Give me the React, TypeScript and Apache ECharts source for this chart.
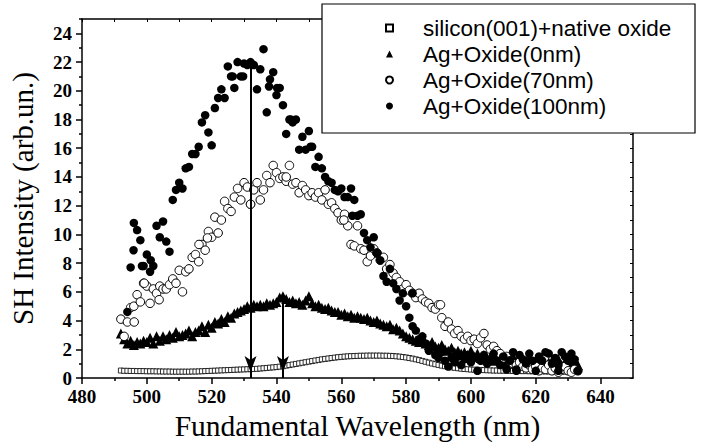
import React, { useEffect, useRef } from "react";
import * as echarts from "echarts";

const SERIF = "Liberation Serif";
const SANS = "Liberation Sans";

const xTitle = "Fundamental Wavelength (nm)";
const yTitle = "SH Intensity (arb.un.)";
const seriesNames = [
  "silicon(001)+native oxide",
  "Ag+Oxide(0nm)",
  "Ag+Oxide(70nm)",
  "Ag+Oxide(100nm)",
];

const xMajorTicks = [480, 500, 520, 540, 560, 580, 600, 620, 640];
const xMinorTicks = [490, 510, 530, 550, 570, 590, 610, 630];
const yMajorTicks = [0, 2, 4, 6, 8, 10, 12, 14, 16, 18, 20, 22, 24];
const yMinorTicks = [1, 3, 5, 7, 9, 11, 13, 15, 17, 19, 21, 23, 25];

const wavelengths = [
  492, 493, 494, 495, 496, 497, 498, 499, 500, 501,
  502, 503, 504, 505, 506, 507, 508, 509, 510, 511,
  512, 513, 514, 515, 516, 517, 518, 519, 520, 521,
  522, 523, 524, 525, 526, 527, 528, 529, 530, 531,
  532, 533, 534, 535, 536, 537, 538, 539, 540, 541,
  542, 543, 544, 545, 546, 547, 548, 549, 550, 551,
  552, 553, 554, 555, 556, 557, 558, 559, 560, 561,
  562, 563, 564, 565, 566, 567, 568, 569, 570, 571,
  572, 573, 574, 575, 576, 577, 578, 579, 580, 581,
  582, 583, 584, 585, 586, 587, 588, 589, 590, 591,
  592, 593, 594, 595, 596, 597, 598, 599, 600, 601,
  602, 603, 604, 605, 606, 607, 608, 609, 610, 611,
  612, 613, 614, 615, 616, 617, 618, 619, 620, 621,
  622, 623, 624, 625, 626, 627, 628, 629, 630, 631,
  632, 633,
];

const siliconValues = [
  0.52, 0.5, 0.5, 0.49, 0.49, 0.48, 0.48, 0.48, 0.47, 0.47,
  0.47, 0.46, 0.46, 0.45, 0.45, 0.45, 0.44, 0.44, 0.44, 0.44,
  0.44, 0.44, 0.45, 0.45, 0.46, 0.47, 0.48, 0.49, 0.5, 0.51,
  0.52, 0.53, 0.54, 0.55, 0.56, 0.57, 0.58, 0.59, 0.6, 0.61,
  0.62, 0.63, 0.64, 0.66, 0.68, 0.7, 0.72, 0.74, 0.76, 0.79,
  0.82, 0.86, 0.9, 0.94, 0.98, 1.02, 1.06, 1.1, 1.14, 1.18,
  1.22, 1.26, 1.3, 1.33, 1.36, 1.39, 1.42, 1.45, 1.47, 1.49,
  1.51, 1.52, 1.53, 1.54, 1.55, 1.55, 1.56, 1.56, 1.56, 1.56,
  1.56, 1.55, 1.55, 1.54, 1.53, 1.51, 1.49, 1.46, 1.43, 1.39,
  1.35, 1.3, 1.25, 1.19, 1.13, 1.07, 1.01, 0.96, 0.91, 0.86,
  0.82, 0.78, 0.74, 0.71, 0.68, 0.65, 0.63, 0.61, 0.59, 0.58,
  0.57, 0.56, 0.55, 0.54, 0.53, 0.52, 0.52, 0.51, 0.51, 0.5,
  0.5, 0.49, 0.49, 0.48, 0.48, 0.48, 0.47, 0.47, 0.47, 0.46,
  0.46, 0.46, 0.45, 0.45, 0.45, 0.44, 0.44, 0.44, 0.44, 0.43,
  0.43, 0.43,
];

const ag0Values = [
  3.1, 2.7, 2.4, 2.6, 2.3, 2.5, 2.4, 2.6, 2.5, 2.8,
  2.4, 2.9, 2.6, 2.9, 2.7, 3.0, 2.8, 3.2, 2.9, 3.0,
  3.1, 3.3, 2.9, 3.2, 3.3, 3.6, 3.2, 3.7, 3.5, 3.9,
  3.8, 4.1, 3.9, 4.3, 4.2, 4.5, 4.6, 4.7, 4.8, 5.0,
  4.9, 5.1, 5.0, 5.1, 5.0, 5.2, 5.1, 5.2, 5.3, 5.6,
  5.7, 5.5, 5.3, 5.4, 5.2, 5.3, 5.1, 5.4, 5.7, 5.2,
  5.0, 5.1, 4.9, 4.8, 4.9, 4.7, 4.6, 4.6, 4.4, 4.5,
  4.3, 4.4, 4.2, 4.3, 4.2, 4.1, 4.2, 4.0, 3.9, 4.0,
  3.8, 3.7, 3.6, 3.7, 3.4, 3.5, 3.3, 3.1, 2.9, 2.8,
  2.7, 2.6, 2.5, 2.6, 2.4, 2.3, 2.5, 2.2, 2.1, 2.3,
  2.0, 1.9, 2.1, 1.8, 1.9, 1.7, 1.8, 1.6, 1.9, 1.5,
  1.7, 1.4, 1.6, 1.3, 1.5, 1.2, 1.5, 1.3, 1.4, 1.1,
  1.3, 1.5, 1.1, 1.3, 1.0, 1.2, 1.4, 1.0, 1.2, 1.1,
  1.3, 0.9, 1.1, 1.2, 1.0, 1.3, 0.9, 1.1, 1.2, 1.0,
  1.1, 0.9,
];

const ag70Values = [
  4.1, 2.9, 3.9, 4.9, 5.0, 5.8, 5.3, 6.6, 6.4, 5.2,
  6.2, 5.9, 6.4, 6.2, 6.2, 6.5, 6.9, 6.6, 7.5, 6.0,
  7.4, 7.6, 8.4, 8.6, 8.1, 9.3, 8.9, 10.2, 9.8, 11.2,
  10.1, 11.0, 12.3, 11.8, 11.6, 12.6, 13.2, 12.4, 13.6, 13.3,
  12.1, 13.1, 13.6, 12.4, 13.1, 14.1, 13.6, 14.8, 14.3, 13.9,
  14.0, 13.7, 14.8, 13.5, 13.6, 12.9, 13.4, 13.1, 12.7, 12.9,
  12.6, 12.9, 12.4, 13.1, 12.1, 12.2, 11.8, 11.5, 11.0, 11.4,
  10.6, 9.3, 9.2, 10.6, 9.0, 8.9, 8.1, 8.5, 9.0, 8.7,
  8.2, 8.4, 7.6, 7.9, 7.3, 7.0, 6.7, 6.2, 6.5, 6.1,
  5.9, 5.6, 5.9, 5.5, 5.3, 5.2, 4.9, 4.8, 5.1, 4.2,
  3.6, 3.9, 3.4, 3.1, 3.3, 2.9, 2.7, 2.9, 2.6, 2.7,
  2.4, 2.8, 3.1, 2.3, 2.0, 2.2, 1.9, 1.7, 1.4, 1.5,
  1.2, 1.0, 0.9, 1.1, 0.8, 0.7, 0.9, 0.6, 0.8, 0.5,
  0.7, 0.6, 0.9, 0.5, 0.7, 0.4, 0.6, 0.8, 0.5, 0.4,
  0.6, 0.5,
];

const ag70ExtraX = [496.1, 499.2, 503.8, 516.1, 518.7, 532.0, 543.0, 560.8, 571.0, 590.6];
const ag70ExtraY = [3.9, 6.6, 5.45, 9.3, 9.75, 12.1, 14.0, 11.0, 8.7, 5.1];

const ag100Values = [
  null, null, 4.6, 7.7, 10.8, 10.3, 9.6, 7.8, 8.6, 7.4,
  7.8, 10.6, 9.8, 10.9, 9.5, 8.8, 12.4, 13.1, 13.6, 13.2,
  14.6, 14.7, 15.6, 15.6, 16.1, 17.8, 18.3, 17.1, 16.2, 18.8,
  19.5, 20.1, 19.5, 21.7, 21.0, 20.2, 22.0, 21.0, 21.9, 21.8,
  22.0, 21.8, 20.1, 21.5, 22.9, 18.5, 20.8, 21.3, 19.7, 20.2,
  19.0, 17.0, 18.0, 17.8, 18.0, 15.9, 16.8, 15.9, 17.2, 16.1,
  14.7, 15.4, 14.6, 14.0, 13.7, 13.6, 13.1, 13.0, 13.2, 12.6,
  12.6, 13.2, 12.4, 11.3, 11.4, 10.1, 9.6, 9.1, 9.8, 8.7,
  8.2, 7.1, 6.7, 7.6, 6.6, 6.2, 5.4, 5.9, 5.0, 4.2,
  3.6, 3.3, 2.7, 2.9, 2.4, 1.9, 2.2, 1.6, 1.4, 1.8,
  1.2, 0.8, 1.4, 1.1, 1.5, 0.9, 1.3, 1.6, 1.1, 1.4,
  0.5, 1.2, 1.6, 1.0, 1.3, 1.7, 1.2, 0.9, 1.5, 0.6,
  1.2, 1.8, 0.5, 1.6, 1.3, 1.0, 1.7, 1.2, 0.5, 1.5,
  1.2, 1.8, 1.7, 1.0, 1.4, 0.9, 1.8, 1.5, 1.2, 1.7,
  1.3, 0.5,
];

const ag100ExtraX = [495.9, 498.5, 501.2, 526.5, 529.7, 537.7, 540.2, 544.4, 550.5, 563.4, 582.0, 614.0, 627.0];
const ag100ExtraY = [8.9, 7.8, 8.2, 21.0, 21.0, 20.3, 20.2, 18.0, 16.1, 11.3, 5.9, 0.6, 0.5];

const arrowX = [532, 542];
const arrowTop = [21.8, 5.6];

function pairs(xs: number[], ys: (number | null)[]) {
  const out: number[][] = [];
  xs.forEach((x, i) => {
    const y = ys[i];
    if (y !== null && y !== undefined) out.push([x, y]);
  });
  return out;
}

const black = "#000";

export default function App() {
  const ref = useRef<HTMLDivElement>(null);
  useEffect(() => {
    const chart = echarts.init(ref.current!, null, { renderer: "svg" });
    const tickLine = { color: black, width: 1.5 };
    const option: any = {
      animation: false,
      backgroundColor: "#fff",
      grid: { left: 81, right: 69, top: 19, bottom: 70 },
      graphic: [
        {
          type: "rect",
          z: 15,
          shape: { x: 322, y: 4, width: 373, height: 129 },
          style: { fill: "#fff", stroke: black, lineWidth: 1.2 },
        },
      ],
      legend: {
        orient: "vertical",
        left: 385,
        top: 15,
        padding: 0,
        itemGap: 0,
        itemWidth: 7,
        itemHeight: 7,
        z: 20,
        selectedMode: false,
        textStyle: {
          fontFamily: SANS,
          fontSize: 22.5,
          color: black,
          lineHeight: 26,
          padding: [0, 0, 0, 25],
        },
        data: seriesNames,
      },
      xAxis: [
        {
          type: "value",
          position: "bottom",
          min: 480,
          max: 650,
          interval: 10,
          name: xTitle,
          nameLocation: "middle",
          nameGap: 31,
          nameTextStyle: { fontFamily: SERIF, fontSize: 29.5, color: black },
          axisLine: { show: true, onZero: false, lineStyle: tickLine },
          axisTick: { show: true, length: 6, customValues: xMajorTicks, lineStyle: tickLine },
          axisLabel: {
            customValues: xMajorTicks,
            fontFamily: SERIF,
            fontWeight: "bold",
            fontSize: 19,
            color: black,
            margin: 9,
          },
          splitLine: { show: false },
        },
        {
          type: "value",
          position: "bottom",
          min: 480,
          max: 650,
          interval: 10,
          axisLine: { show: false, onZero: false },
          axisTick: { show: true, length: 3, customValues: xMinorTicks, lineStyle: tickLine },
          axisLabel: { show: false },
          splitLine: { show: false },
        },
        {
          type: "value",
          position: "top",
          min: 480,
          max: 650,
          interval: 10,
          axisLine: { show: true, onZero: false, lineStyle: tickLine },
          axisTick: { show: true, inside: true, length: 3, lineStyle: { color: black, width: 1 } },
          axisLabel: { show: false },
          splitLine: { show: false },
        },
      ],
      yAxis: [
        {
          type: "value",
          position: "left",
          min: 0,
          max: 25,
          interval: 1,
          name: yTitle,
          nameLocation: "middle",
          nameGap: 45,
          nameTextStyle: { fontFamily: SERIF, fontSize: 29, color: black },
          axisLine: { show: true, onZero: false, lineStyle: tickLine },
          axisTick: { show: true, length: 6, customValues: yMajorTicks, lineStyle: tickLine },
          axisLabel: {
            customValues: yMajorTicks,
            fontFamily: SERIF,
            fontWeight: "bold",
            fontSize: 19,
            color: black,
            margin: 10,
          },
          splitLine: { show: false },
        },
        {
          type: "value",
          position: "left",
          min: 0,
          max: 25,
          interval: 1,
          axisLine: { show: false, onZero: false },
          axisTick: { show: true, length: 3, customValues: yMinorTicks, lineStyle: tickLine },
          axisLabel: { show: false },
          splitLine: { show: false },
        },
        {
          type: "value",
          position: "right",
          min: 0,
          max: 25,
          interval: 1,
          axisLine: { show: true, onZero: false, lineStyle: tickLine },
          axisTick: { show: true, inside: true, length: 3, lineStyle: { color: black, width: 1 } },
          axisLabel: { show: false },
          splitLine: { show: false },
        },
      ],
      series: [
        {
          name: seriesNames[0],
          type: "scatter",
          symbol: "rect",
          symbolSize: 5,
          itemStyle: { color: "#fff", borderColor: black, borderWidth: 0.8, opacity: 1 },
          data: pairs(wavelengths, siliconValues),
          z: 2,
        },
        {
          name: seriesNames[1],
          type: "scatter",
          symbol: "triangle",
          symbolSize: 10,
          itemStyle: { color: black, opacity: 1 },
          data: pairs(wavelengths, ag0Values),
          z: 3,
        },
        {
          name: seriesNames[2],
          type: "scatter",
          symbol: "circle",
          symbolSize: 8.5,
          itemStyle: { color: "#fff", borderColor: black, borderWidth: 1, opacity: 1 },
          data: pairs(wavelengths, ag70Values).concat(pairs(ag70ExtraX, ag70ExtraY)),
          z: 4,
        },
        {
          name: seriesNames[3],
          type: "scatter",
          symbol: "circle",
          symbolSize: 8.5,
          itemStyle: { color: black, opacity: 1 },
          data: pairs(wavelengths, ag100Values).concat(pairs(ag100ExtraX, ag100ExtraY)),
          z: 5,
          markLine: {
            silent: true,
            symbol: ["none", "arrow"],
            symbolSize: [9, 16],
            symbolOffset: [[0, 0], [0, 6]],
            lineStyle: { color: black, width: 2, type: "solid", opacity: 1 },
            label: { show: false },
            emphasis: { disabled: true },
            data: arrowX.map((x, i) => [{ coord: [x, arrowTop[i]] }, { coord: [x, 0] }]),
          },
        },
      ],
    };
    chart.setOption(option);
    return () => chart.dispose();
  }, []);
  return (
    <div
      ref={ref}
      style={{ position: "absolute", left: 0, top: 0, width: 702, height: 448 }}
    />
  );
}
